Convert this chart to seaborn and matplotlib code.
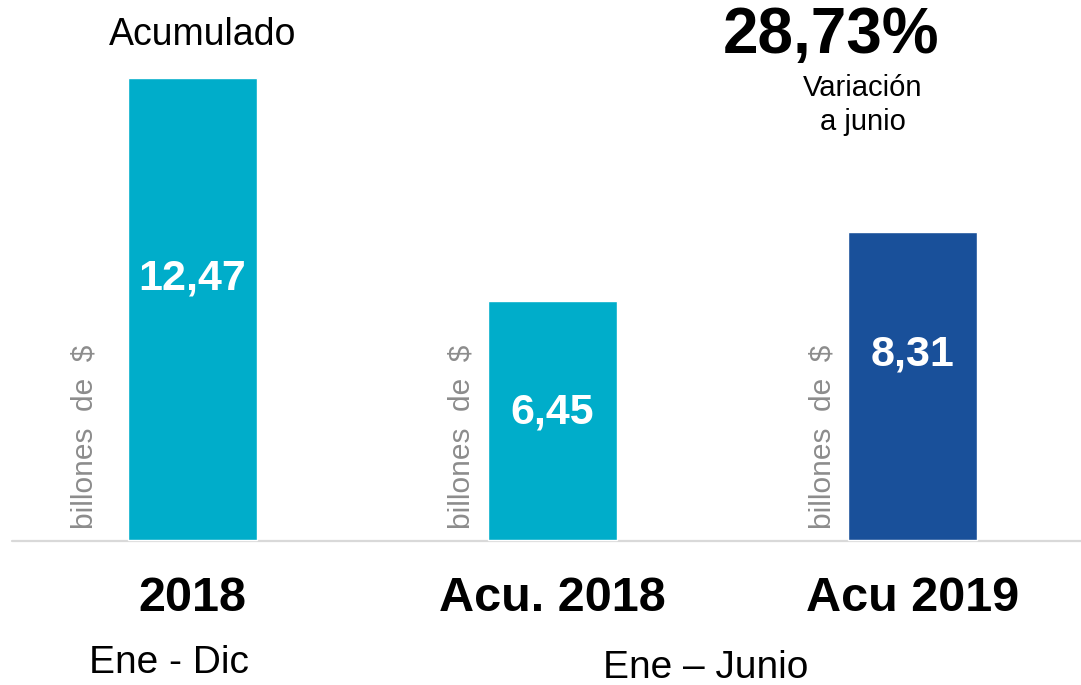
import matplotlib
matplotlib.use("Agg")
import matplotlib.pyplot as plt
import seaborn as sns

categories = ["2018", "Acu. 2018", "Acu 2019"]
values = [12.47, 6.45, 8.31]
value_labels = ["12,47", "6,45", "8,31"]
bar_colors = ["#00ADCA", "#00ADCA", "#19509A"]

sns.set_theme(style="white")
plt.rcParams["font.family"] = ["Liberation Sans", "DejaVu Sans"]

W, H = 1081, 685
fig = plt.figure(figsize=(W / 100, H / 100), dpi=100)
ax = fig.add_axes([0, 0, 1, 1])

sns.barplot(x=categories, y=values, hue=categories, palette=bar_colors,
            width=0.358, saturation=1, legend=False, ax=ax)

# pixel mapping: bar centers 360px apart, baseline at y=540px
ax.set_xlim(-0.535, 2.468)
ax.set_ylim(-3.914, 14.575)
ax.axis("off")
ax.plot([-0.535 + 12 / 360, 2.468], [-0.03, -0.03], color="#d9d9d9", lw=1.6,
        zorder=0, clip_on=False)

label_y = [7.05, 3.45, 5.0]
unit_offset = [0.301, 0.254, 0.249]
for i, (lab, ly, off) in enumerate(zip(value_labels, label_y, unit_offset)):
    ax.text(i, ly, lab, color="white", fontsize=31, fontweight="bold",
            ha="center", va="center")
    # rotated unit label to the left of each bar
    ax.text(i - off, 0.3, "billones  de  $", color="#8c8c8c", fontsize=21.5,
            rotation=90, ha="center", va="bottom")
    ax.text(i, -1.57, categories[i], color="black", fontsize=35,
            fontweight="bold", ha="center", va="center")


def ftext(x, y, s, **kw):
    fig.text(x / W, 1 - y / H, s, ha="center", va="center", **kw)


ftext(203, 35, "Acumulado", fontsize=27, color="black")
ftext(831, 36, "28,73%", fontsize=46, fontweight="bold", color="black")
ftext(863, 88, "Variación", fontsize=21, color="black")
ftext(863, 122, "a junio", fontsize=21, color="black")
ftext(169, 663, "Ene - Dic", fontsize=28, color="black")
ftext(706, 668, "Ene – Junio", fontsize=28, color="black")

fig.savefig("out.png", dpi=100)
